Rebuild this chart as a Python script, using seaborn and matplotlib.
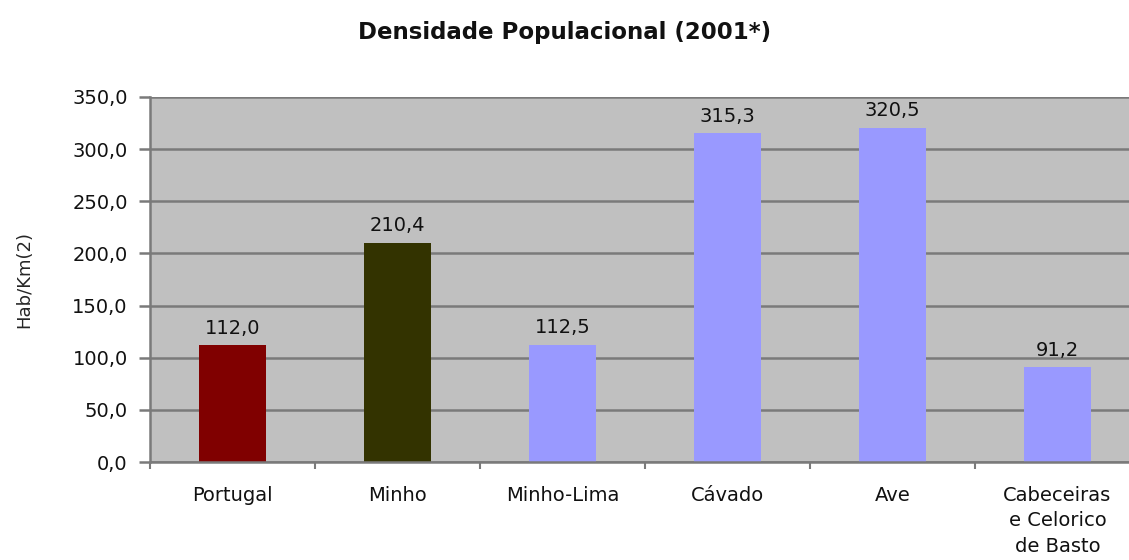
import matplotlib
matplotlib.use("Agg")
import matplotlib.pyplot as plt
import seaborn as sns
import pandas as pd
import numpy as np
from matplotlib.ticker import FuncFormatter, FixedLocator

categories = ["Portugal", "Minho", "Minho-Lima", "Cávado", "Ave", "Cabeceiras\ne Celorico\nde Basto"]
values = [112.0, 210.4, 112.5, 315.3, 320.5, 91.2]
colors = ["#800000", "#333300", "#9999FF", "#9999FF", "#9999FF", "#9999FF"]

sns.set_style("white")
plt.rcParams['font.family'] = ['DejaVu Sans']
plt.rcParams['text.color'] = '#111111'
plt.rcParams['xtick.color'] = '#111111'
plt.rcParams['ytick.color'] = '#111111'

df = pd.DataFrame({"cat": categories, "val": values})

fig = plt.figure(figsize=(11.29, 5.6), dpi=100)
ax = fig.add_axes([150/1129, 98/560, 990/1129, 365/560])
sns.barplot(data=df, x="cat", y="val", hue="cat", palette=colors, legend=False,
            width=0.41, ax=ax, saturation=1, edgecolor="none", linewidth=0)
ax.set_facecolor("#C0C0C0")
ax.set_ylim(0, 350)
ax.set_xlim(-0.5, 5.5)
ax.set_yticks(np.arange(0, 351, 50))
ax.yaxis.set_major_formatter(FuncFormatter(lambda v, p: f"{v:.1f}".replace(".", ",")))
ax.grid(axis="y", color="#7a7a7a", linewidth=1.8)
ax.set_axisbelow(True)
for s in ["top", "right"]:
    ax.spines[s].set_visible(False)
ax.spines["left"].set_color("#7a7a7a")
ax.spines["left"].set_linewidth(1.8)
ax.spines["bottom"].set_color("#7a7a7a")
ax.spines["bottom"].set_linewidth(1.8)
ax.tick_params(axis="y", left=True, length=8, width=1.8, color="#7a7a7a", labelsize=14, pad=8,
               labelcolor="#111111")
ax.tick_params(axis="x", which="major", bottom=False, length=0, labelsize=14, pad=17,
               labelcolor="#111111")
ax.xaxis.set_minor_locator(FixedLocator(np.arange(-0.5, 6, 1)))
ax.tick_params(axis="x", which="minor", bottom=True, length=5, width=1.5, color="#7a7a7a")
for lab in ax.get_xticklabels():
    lab.set_verticalalignment("top")
    lab.set_linespacing(1.45)
ax.set_xlabel("")
ax.set_ylabel("Hab/Km(2)", fontsize=13)
ax.yaxis.set_label_coords(-0.118, 0.5)

for i, v in enumerate(values):
    ax.text(i, v + 7, f"{v:.1f}".replace(".", ","), ha="center", va="bottom", fontsize=14,
            color="#111111")

fig.text(565/1129, 1 - 32/560, "Densidade Populacional (2001*)", ha="center", va="center",
         fontsize=16.5, fontweight="bold", color="#111111")

fig.savefig("out.png", dpi=100)
